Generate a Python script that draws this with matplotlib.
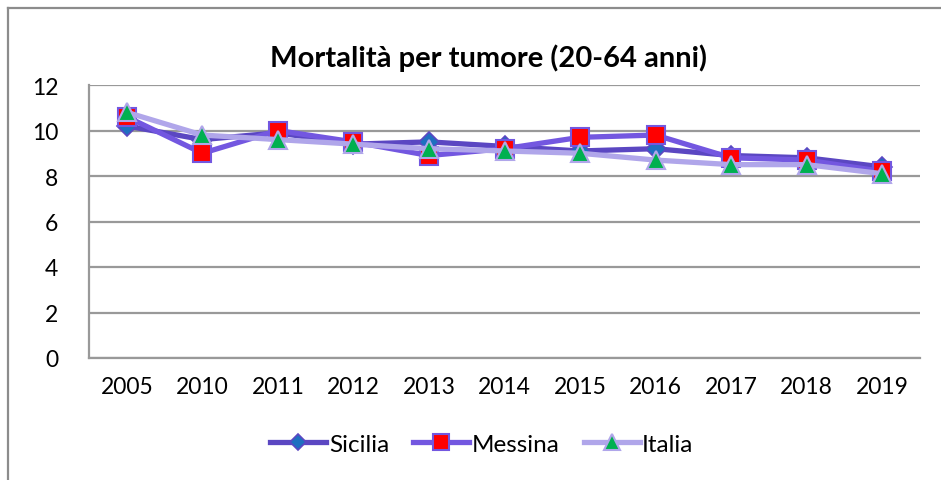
import matplotlib
matplotlib.use("Agg")
import matplotlib.pyplot as plt
from matplotlib.lines import Line2D

years = ["2005", "2010", "2011", "2012", "2013", "2014", "2015", "2016", "2017", "2018", "2019"]
sicilia = [10.2, 9.6, 9.9, 9.4, 9.5, 9.3, 9.1, 9.2, 8.9, 8.8, 8.4]
messina = [10.6, 9.0, 10.0, 9.5, 8.9, 9.2, 9.7, 9.8, 8.8, 8.7, 8.2]
italia = [10.8, 9.8, 9.6, 9.4, 9.2, 9.1, 9.0, 8.7, 8.5, 8.5, 8.1]

plt.rcParams['font.family'] = ['Lato', 'DejaVu Sans']

fig = plt.figure(figsize=(9.41, 4.81), dpi=100)
ax = fig.add_axes([89/941, 1-359/481, (920-89)/941, (359-86)/481])

x = list(range(len(years)))
ax.plot(x, sicilia, color='#5B47C2', lw=3.8, marker='D', ms=10,
        mfc='#1F6FC0', mec='#5B47C2', mew=1.2, label='Sicilia', zorder=3)
ax.plot(x, messina, color='#7357E0', lw=3.8, marker='s', ms=13,
        mfc='#FF0000', mec='#7357E0', mew=1.5, label='Messina', zorder=4)
ax.plot(x, italia, color='#B0A6EA', lw=3.8, marker='^', ms=13,
        mfc='#00B050', mec='#B0A6EA', mew=1.5, label='Italia', zorder=5)

ax.set_xlim(-0.5, len(years) - 0.5)
ax.set_ylim(0, 12)
ax.set_yticks([0, 2, 4, 6, 8, 10, 12])
ax.set_xticks(x)
ax.set_xticklabels(years)
ax.tick_params(axis='both', length=0, labelsize=16.5, colors='black')
ax.tick_params(axis='x', pad=13)
ax.tick_params(axis='y', pad=22)
ax.grid(axis='y', color='#999999', lw=1.6)
ax.set_axisbelow(True)
for s in ['top', 'right']:
    ax.spines[s].set_visible(False)
for s in ['left', 'bottom']:
    ax.spines[s].set_color('#999999')
    ax.spines[s].set_linewidth(1.6)

fig.text(488/941, 1-58/481, "Mortalità per tumore (20-64 anni)", ha='center', va='center',
         fontsize=21, fontweight='bold')

leg = fig.legend(loc='center', bbox_to_anchor=(482/941, 1-445/481), ncol=3, frameon=False,
                 fontsize=17.5, handlelength=2.3, handletextpad=0.1, columnspacing=1.0,
                 markerscale=0.85)

# outer chart frame (top and left visible)
fig.add_artist(Line2D([8/941, 8/941], [0, 1-9/481], transform=fig.transFigure, color='#8c8c8c', lw=1.6))
fig.add_artist(Line2D([8/941, 1], [1-9/481, 1-9/481], transform=fig.transFigure, color='#8c8c8c', lw=1.6))

fig.savefig("out.png", dpi=100)
